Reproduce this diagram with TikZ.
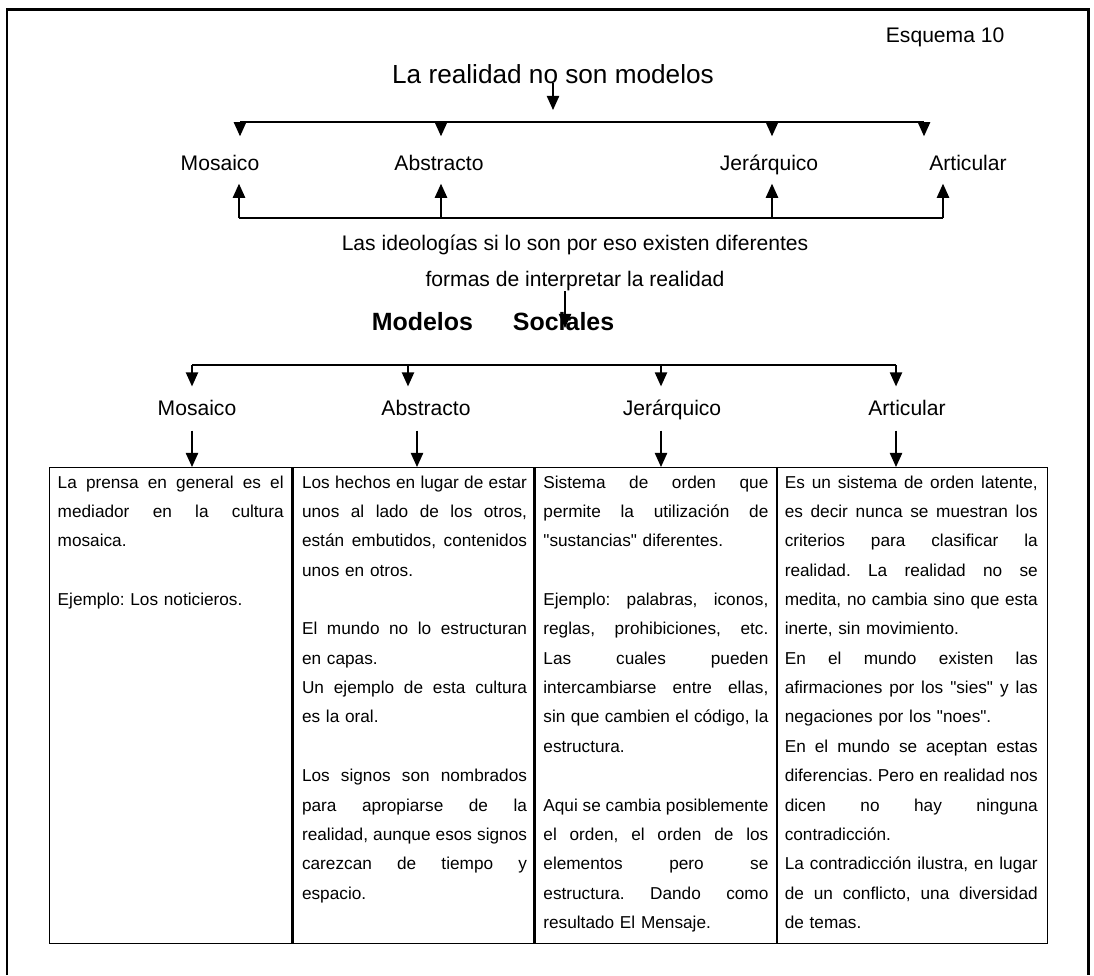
\documentclass[tikz,border=0pt]{standalone}
\usepackage{fontspec}
\setmainfont{Liberation Sans}
\usetikzlibrary{arrows.meta}
\frenchspacing

% one justified line of a cell
\newcommand{\jl}[1]{\makebox[\hsize][s]{\spaceskip=.278em plus 1fil\xspaceskip=\spaceskip #1}}
\newcommand{\qt}{\textquotedbl}

\begin{document}
\begin{tikzpicture}[x=0.02cm,y=-0.02cm,
    line width=0.8pt,
    arr/.style={-{Triangle[length=8pt,width=7pt]}},
    big/.style={anchor=base,inner sep=0pt,font=\fontsize{14.9}{18}\selectfont},
    mid/.style={anchor=base,inner sep=0pt,font=\fontsize{12}{14}\selectfont},
    lab/.style={mid,text height=9pt,text depth=3pt},
    cell/.style={draw,anchor=north west,minimum height=9.52cm,inner sep=0pt},
    txt/.style={anchor=north west,inner sep=0pt,align=left,
        font=\fontsize{9.8}{16.7}\selectfont}]
    \useasboundingbox (0,0) rectangle (1094,975);
    \draw[line width=1.7pt] (7,975) -- (7,9) -- (1088,9) -- (1088,975);

    % upper scheme
    \node[mid,anchor=base east] (esq) at (1005,42) {Esquema 10};
    \node[big] (real) at (553,83) {La realidad no son modelos};
    \node[lab] (m1) at (220,170) {Mosaico};
    \node[lab] (m2) at (439,170) {Abstracto};
    \node[lab] (m3) at (769,170) {Jerárquico};
    \node[lab] (m4) at (968,170) {Articular};

    \coordinate (ra) at (553,110);
    \draw[arr] (real.base -| ra) -- (ra);
    \foreach \x [count=\i] in {240,441,772,924}
        \coordinate (d\i) at (\x,122);
    \draw (d1) -- (d4);
    \foreach \i in {1,...,4}
        \draw[arr,shorten >=9.8pt] (d\i) -- (d\i |- m\i.north);

    \foreach \x [count=\i] in {239,441,772,943}
        \coordinate (u\i) at (\x,218);
    \draw (u1) -- (u4);
    \foreach \i in {1,...,4}
        \draw[arr,shorten >=4.4pt] (u\i) -- (u\i |- m\i.south);

    % models
    \node[mid] (ideo) at (575,250) {Las ideologías si lo son por eso existen diferentes};
    \node[mid] (form) at (575,286) {formas de interpretar la realidad};
    \node[anchor=base,inner sep=0pt,font=\fontsize{14.2}{17}\selectfont\bfseries]
        (soc) at (493,330) {Modelos\hspace{1.6em}Sociales};
    \coordinate (fa) at (565,328);
    \draw[arr] (form.south -| fa) -- (fa);

    \node[lab] (n1) at (197,415) {Mosaico};
    \node[lab] (n2) at (426,415) {Abstracto};
    \node[lab] (n3) at (672,415) {Jerárquico};
    \node[lab] (n4) at (907,415) {Articular};

    \foreach \x [count=\i] in {192,408,661,896}
        \coordinate (l\i) at (\x,365);
    \draw (l1) -- (l4);
    \foreach \i in {1,...,4}
        \draw[arr,shorten >=6.9pt] (l\i) -- (l\i |- n\i.north);

    % table
    \node[cell,minimum width=4.84cm] (c1) at (49,467) {};
    \node[cell,minimum width=4.82cm] (c2) at (c1.north east) {};
    \node[cell,minimum width=4.82cm] (c3) at (c2.north east) {};
    \node[cell,minimum width=5.40cm] (c4) at (c3.north east) {};

    \foreach \x [count=\i] in {192,417,661,896}
        \coordinate (k\i) at (\x,467);
    \foreach \i in {1,...,4}
        \draw[arr,shorten <=5.5pt] (k\i |- n\i.south) -- (k\i);

    \node[txt,text width=4.52cm] (p1) at ([xshift=0.16cm]c1.north west) {%
        \noindent\strut\jl{La prensa en general es el}\\
        \jl{mediador en la cultura}\\
        mosaica.\\
        \mbox{}\\
        Ejemplo: Los noticieros.};
    \node[txt,text width=4.5cm] (p2) at ([xshift=0.18cm]c2.north west) {%
        \noindent\strut\jl{Los hechos en lugar de estar}\\
        \jl{unos al lado de los otros,}\\
        \jl{están embutidos, contenidos}\\
        unos en otros.\\
        \mbox{}\\
        \jl{El mundo no lo estructuran}\\
        en capas.\\
        \jl{Un ejemplo de esta cultura}\\
        es la oral.\\
        \mbox{}\\
        \jl{Los signos son nombrados}\\
        \jl{para apropiarse de la}\\
        \jl{realidad, aunque esos signos}\\
        \jl{carezcan de tiempo y}\\
        espacio.};
    \node[txt,text width=4.5cm] (p3) at ([xshift=0.16cm]c3.north west) {%
        \noindent\strut\jl{Sistema de orden que}\\
        \jl{permite la utilización de}\\
        \qt sustancias\qt{} diferentes.\\
        \mbox{}\\
        \jl{Ejemplo: palabras, iconos,}\\
        \jl{reglas, prohibiciones, etc.}\\
        \jl{Las cuales pueden}\\
        \jl{intercambiarse entre ellas,}\\
        \jl{sin que cambien el código, la}\\
        estructura.\\
        \mbox{}\\
        \jl{Aqui se cambia posiblemente}\\
        \jl{el orden, el orden de los}\\
        \jl{elementos pero se}\\
        \jl{estructura. Dando como}\\
        resultado El Mensaje.};
    \node[txt,text width=5.06cm] (p4) at ([xshift=0.14cm]c4.north west) {%
        \noindent\strut\jl{Es un sistema de orden latente,}\\
        \jl{es decir nunca se muestran los}\\
        \jl{criterios para clasificar la}\\
        \jl{realidad. La realidad no se}\\
        \jl{medita, no cambia sino que esta}\\
        inerte, sin movimiento.\\
        \jl{En el mundo existen las}\\
        \jl{afirmaciones por los \qt sies\qt{} y las}\\
        negaciones por los \qt noes\qt.\\
        \jl{En el mundo se aceptan estas}\\
        \jl{diferencias. Pero en realidad nos}\\
        \jl{dicen no hay ninguna}\\
        contradicción.\\
        \jl{La contradicción ilustra, en lugar}\\
        \jl{de un conflicto, una diversidad}\\
        de temas.};
\end{tikzpicture}
\end{document}
